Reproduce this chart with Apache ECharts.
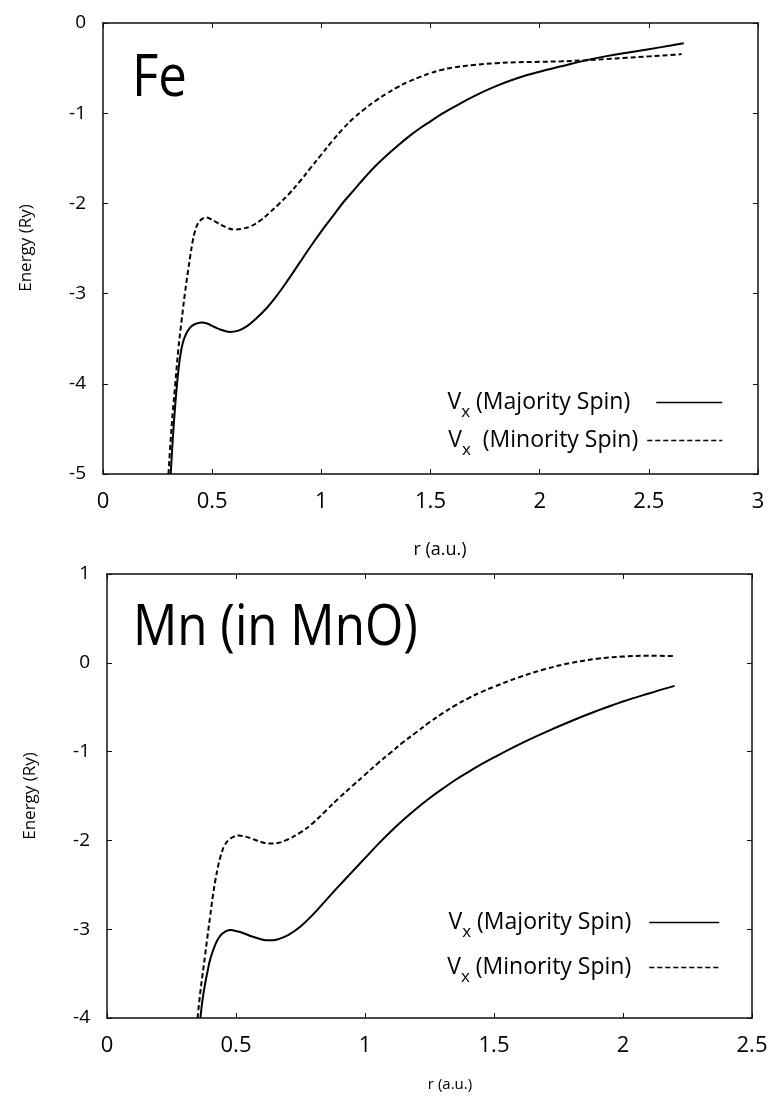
<!DOCTYPE html>
<html><head><meta charset="utf-8">
<script src="https://cdn.jsdelivr.net/npm/echarts@6/dist/echarts.min.js"></script>
<style>html,body{margin:0;padding:0;background:#fff}#c{width:773px;height:1097px}</style>
</head><body><div id="c"></div>
<script>
// ---- data (r in a.u., energy in Ry) ----
const feMajority = [[0.31,-5.0],[0.32,-4.6],[0.33,-4.26],[0.34,-3.98],[0.352,-3.72],[0.365,-3.55],[0.38,-3.45],[0.40,-3.375],[0.42,-3.34],[0.45,-3.32],[0.48,-3.335],[0.51,-3.37],[0.54,-3.40],[0.58,-3.425],[0.62,-3.41],[0.66,-3.36],[0.70,-3.28],[0.75,-3.16],[0.80,-3.01],[0.85,-2.84],[0.90,-2.66],[0.95,-2.48],[1.00,-2.31],[1.05,-2.15],[1.10,-1.99],[1.15,-1.85],[1.20,-1.71],[1.25,-1.58],[1.30,-1.465],[1.35,-1.36],[1.40,-1.26],[1.45,-1.17],[1.50,-1.09],[1.55,-1.01],[1.60,-0.94],[1.70,-0.81],[1.80,-0.70],[1.90,-0.61],[2.00,-0.54],[2.10,-0.48],[2.20,-0.42],[2.30,-0.37],[2.40,-0.33],[2.50,-0.29],[2.60,-0.25],[2.66,-0.225]];
const feMinority = [[0.30,-5.0],[0.31,-4.62],[0.32,-4.3],[0.33,-4.03],[0.345,-3.62],[0.36,-3.30],[0.375,-3.0],[0.39,-2.74],[0.40,-2.58],[0.41,-2.43],[0.42,-2.32],[0.435,-2.22],[0.45,-2.18],[0.47,-2.155],[0.49,-2.17],[0.52,-2.21],[0.56,-2.26],[0.60,-2.29],[0.64,-2.28],[0.68,-2.25],[0.72,-2.19],[0.76,-2.11],[0.80,-2.02],[0.85,-1.90],[0.90,-1.76],[0.95,-1.61],[1.00,-1.46],[1.05,-1.31],[1.10,-1.17],[1.15,-1.05],[1.20,-0.95],[1.25,-0.86],[1.30,-0.78],[1.35,-0.71],[1.40,-0.65],[1.45,-0.60],[1.50,-0.555],[1.55,-0.52],[1.60,-0.495],[1.70,-0.465],[1.80,-0.445],[1.90,-0.435],[2.00,-0.43],[2.10,-0.425],[2.20,-0.415],[2.30,-0.40],[2.40,-0.385],[2.50,-0.37],[2.60,-0.355],[2.65,-0.345]];
const mnMajority = [[0.362,-4.0],[0.37,-3.80],[0.38,-3.62],[0.39,-3.47],[0.40,-3.34],[0.42,-3.17],[0.44,-3.07],[0.46,-3.025],[0.48,-3.01],[0.50,-3.02],[0.53,-3.045],[0.56,-3.08],[0.60,-3.115],[0.63,-3.125],[0.66,-3.115],[0.70,-3.07],[0.75,-2.97],[0.80,-2.83],[0.85,-2.67],[0.90,-2.51],[0.95,-2.355],[1.00,-2.20],[1.05,-2.045],[1.10,-1.90],[1.15,-1.765],[1.20,-1.64],[1.25,-1.525],[1.30,-1.42],[1.35,-1.32],[1.40,-1.23],[1.45,-1.145],[1.50,-1.065],[1.60,-0.915],[1.70,-0.78],[1.80,-0.655],[1.90,-0.54],[2.00,-0.435],[2.10,-0.345],[2.20,-0.26]];
const mnMinority = [[0.351,-4.0],[0.36,-3.75],[0.37,-3.52],[0.38,-3.30],[0.39,-3.07],[0.40,-2.85],[0.41,-2.63],[0.42,-2.45],[0.43,-2.30],[0.44,-2.18],[0.455,-2.06],[0.47,-2.00],[0.49,-1.96],[0.51,-1.945],[0.54,-1.96],[0.57,-1.99],[0.60,-2.02],[0.63,-2.035],[0.66,-2.03],[0.70,-1.99],[0.75,-1.91],[0.80,-1.80],[0.85,-1.66],[0.90,-1.52],[0.95,-1.39],[1.00,-1.26],[1.05,-1.13],[1.10,-1.01],[1.15,-0.89],[1.20,-0.78],[1.25,-0.67],[1.30,-0.57],[1.35,-0.48],[1.40,-0.40],[1.45,-0.33],[1.50,-0.27],[1.60,-0.16],[1.70,-0.07],[1.80,0.00],[1.90,0.045],[2.00,0.07],[2.10,0.08],[2.20,0.075]];
// axis ranges / tick steps
const feX = {min:0, max:3, step:0.5};
const feY = {min:-5, max:0, step:1};
const mnX = {min:0, max:2.5, step:0.5};
const mnY = {min:-4, max:1, step:1};
const panelTitles = ['Fe', 'Mn (in MnO)'];
const xName = 'r (a.u.)';
const yName = 'Energy (Ry)';

const FONT = 'Open Sans';
const chart = echarts.init(document.getElementById('c'));

function xAx(g, r, pos, labels) {
  return {type:'value', gridIndex:g, position:pos, min:r.min, max:r.max, interval:r.step,
    axisLine:{show:true, onZero:false, lineStyle:{color:'#111', width:1.5}},
    axisTick:{show:true, inside:true, length:5, lineStyle:{color:'#111', width:1}},
    axisLabel:{show:labels, margin:17, fontSize:22, fontFamily:FONT, color:'#000'},
    splitLine:{show:false}};
}
function yAx(g, r, pos, labels) {
  return {type:'value', gridIndex:g, position:pos, min:r.min, max:r.max, interval:r.step,
    axisLine:{show:true, onZero:false, lineStyle:{color:'#111', width:1.5}},
    axisTick:{show:true, inside:true, length:5, lineStyle:{color:'#111', width:1}},
    axisLabel:{show:labels, margin:17, fontSize:19, fontFamily:FONT, color:'#000'},
    splitLine:{show:false}};
}
function ser(name, xi, yi, data, dashed) {
  return {type:'line', name, xAxisIndex:xi, yAxisIndex:yi, data, symbol:'none', showSymbol:false,
    smooth:0.4, animation:false, silent:true,
    itemStyle:{color:'#000'},
    lineStyle:{color:'#000', width:2, type: dashed ? [5,3] : 'solid'}};
}
const rich = {
  v:{fontSize:23, fontFamily:FONT, color:'#000'},
  s:{fontSize:17, fontFamily:FONT, color:'#000', padding:[19,0,0,0]}
};
function leg(name, text, right, top, w, padR) {
  return {show:true, data:[name], right, top, orient:'horizontal', align:'right', padding:0,
    itemWidth:w, itemHeight:14, selectedMode:false,
    itemStyle:{opacity:0},
    lineStyle:{width:1.5, color:'#000'},
    formatter:()=> text,
    textStyle:{fontSize:23, fontFamily:FONT, color:'#000', padding:[0,padR,0,0], rich}};
}
const option = {
  backgroundColor:'#fff',
  animation:false,
  grid:[
    {left:103, top:23, width:655, height:451, show:false},
    {left:107, top:574, width:645, height:444, show:false}
  ],
  xAxis:[xAx(0,feX,'bottom',true), xAx(0,feX,'top',false), xAx(1,mnX,'bottom',true), xAx(1,mnX,'top',false)],
  yAxis:[yAx(0,feY,'left',true), yAx(0,feY,'right',false), yAx(1,mnY,'left',true), yAx(1,mnY,'right',false)],
  series:[
    ser('Fe maj',0,0,feMajority,false),
    ser('Fe min',0,0,feMinority,true),
    ser('Mn maj',2,2,mnMajority,false),
    ser('Mn min',2,2,mnMinority,true)
  ],
  legend:[
    leg('Fe maj','{v|V}{s|x}{v| (Majority Spin)}',50,391,66,21),
    leg('Fe min','{v|V}{s|x}{v|  (Minority Spin)}',50,429,75,4),
    leg('Mn maj','{v|V}{s|x}{v| (Majority Spin)}',53,911,70,13),
    leg('Mn min','{v|V}{s|x}{v| (Minority Spin)}',53,956,70,13)
  ],
  graphic:[
    {type:'text', x:132, y:79, scaleX:0.88, style:{text:panelTitles[0], fontSize:58, fontFamily:FONT, fill:'#000', align:'left', verticalAlign:'middle'}},
    {type:'text', x:133, y:629, scaleX:0.88, style:{text:panelTitles[1], fontSize:56, fontFamily:FONT, fill:'#000', align:'left', verticalAlign:'middle'}},
    {type:'text', x:440, y:550, style:{text:xName, fontSize:18, fontFamily:FONT, fill:'#000', align:'center', verticalAlign:'middle'}},
    {type:'text', x:450, y:1085, style:{text:xName, fontSize:15, fontFamily:FONT, fill:'#000', align:'center', verticalAlign:'middle'}},
    {type:'text', x:26, y:248, rotation:Math.PI/2, style:{text:yName, fontSize:17, fontFamily:FONT, fill:'#000', align:'center', verticalAlign:'middle'}},
    {type:'text', x:30, y:796, rotation:Math.PI/2, style:{text:yName, fontSize:17, fontFamily:FONT, fill:'#000', align:'center', verticalAlign:'middle'}}
  ]
};
chart.setOption(option);
</script></body></html>
